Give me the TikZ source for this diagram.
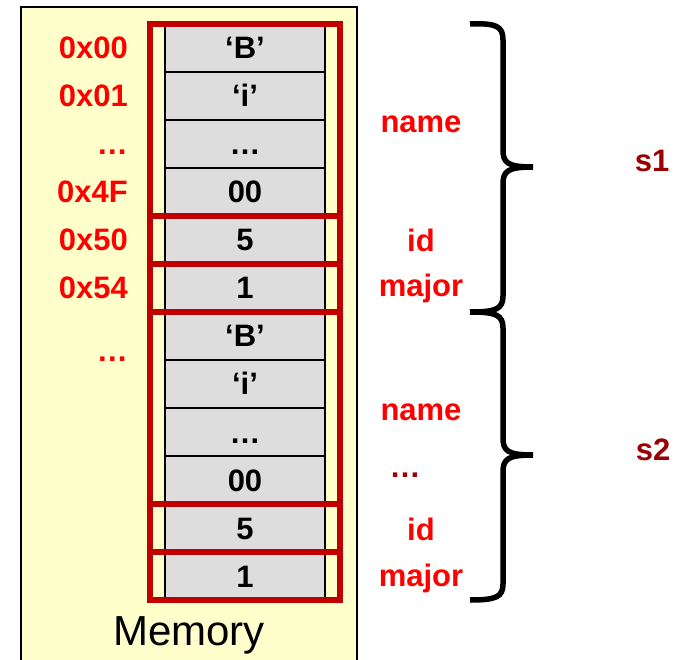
\documentclass[tikz,border=0pt]{standalone}
\usepackage{fontspec}
\setmainfont{Liberation Sans}
\definecolor{boxred}{HTML}{C00000}
\definecolor{addrred}{HTML}{FF0000}
\definecolor{sred}{HTML}{990000}
\definecolor{cellgray}{HTML}{DDDDDD}
\definecolor{memyellow}{HTML}{FFFFCC}
\begin{document}
\begin{tikzpicture}[x=1pt,y=-1pt,
  cell/.style={draw=black,line width=1.5pt,fill=cellgray,minimum width=160pt,minimum height=48pt,inner sep=0pt,
    font=\fontsize{31}{37}\selectfont\bfseries,text depth=0pt},
  celltext/.style={anchor=base,font=\fontsize{31}{37}\selectfont\bfseries,inner sep=0pt},
  addr/.style={anchor=base east,text=addrred,font=\fontsize{31}{37}\selectfont\bfseries,inner sep=0pt},
  field/.style={anchor=base,text=addrred,font=\fontsize{31}{37}\selectfont\bfseries,inner sep=0pt},
  sname/.style={anchor=base,text=sred,font=\fontsize{31}{37}\selectfont\bfseries,inner sep=0pt},
  redbox/.style={draw=boxred,line width=6pt},
  bracestyle/.style={draw=black,line width=5.5pt}]
\useasboundingbox (0,0) rectangle (683,660);
% memory background
\draw[fill=memyellow,line width=2pt] (21,7) rectangle (357,680);
\node[anchor=base,font=\fontsize{42}{50}\selectfont,inner sep=0pt] (mem) at (189,645) {Memory};
% cells
\foreach \i in {0,...,11} {
  \node[cell] (c\i) at (245,48+48*\i) {};
}
\node[celltext] (t0) at (245,59) {‘B’};
\node[celltext] (t1) at (245,107) {‘i’};
\node[celltext] (t2) at (245,155) {…};
\node[celltext] (t3) at (245,203) {00};
\node[celltext] (t4) at (245,251) {5};
\node[celltext] (t5) at (245,299) {1};
\node[celltext] (t6) at (245,347) {‘B’};
\node[celltext] (t7) at (245,395) {‘i’};
\node[celltext] (t8) at (245,443) {…};
\node[celltext] (t9) at (245,491) {00};
\node[celltext] (t10) at (245,539) {5};
\node[celltext] (t11) at (245,587) {1};
% red field boxes
\draw[redbox] (150,24) rectangle (340,216);
\draw[redbox] (150,216) rectangle (340,264);
\draw[redbox] (150,264) rectangle (340,312);
\draw[redbox] (150,312) rectangle (340,504);
\draw[redbox] (150,504) rectangle (340,552);
\draw[redbox] (150,552) rectangle (340,600);
% addresses
\node[addr] (a0) at (128,59) {0x00};
\node[addr] (a1) at (128,107) {0x01};
\node[addr] (a2) at (128,155) {…};
\node[addr] (a3) at (128,203) {0x4F};
\node[addr] (a4) at (128,251) {0x50};
\node[addr] (a5) at (128,299) {0x54};
\node[addr] (a6) at (128,362) {…};
% field labels
\node[field] (n1) at (421,133) {name};
\node[field] (i1) at (421,252) {id};
\node[field] (m1) at (421,297) {major};
\node[field] (n2) at (421,420) {name};
\node[sname] (d2) at (405,477) {…};
\node[field] (i2) at (421,540) {id};
\node[field] (m2) at (421,586) {major};
% struct names
\node[sname] (s1) at (652,172) {s1};
\node[sname] (s2) at (653,460) {s2};
% braces
\draw[bracestyle] (470,24) .. controls (496,23) and (503,26) .. (503,40) -- (503,150)
  .. controls (503,163) and (508,167) .. (533,167)
  .. controls (508,167) and (503,171) .. (503,184) -- (503,296)
  .. controls (503,309) and (496,312) .. (470,312);
\draw[bracestyle] (470,312) .. controls (496,312) and (503,315) .. (503,328) -- (503,438)
  .. controls (503,451) and (508,455) .. (533,455)
  .. controls (508,455) and (503,459) .. (503,472) -- (503,584)
  .. controls (503,597) and (496,600) .. (470,600);
\end{tikzpicture}
\end{document}
